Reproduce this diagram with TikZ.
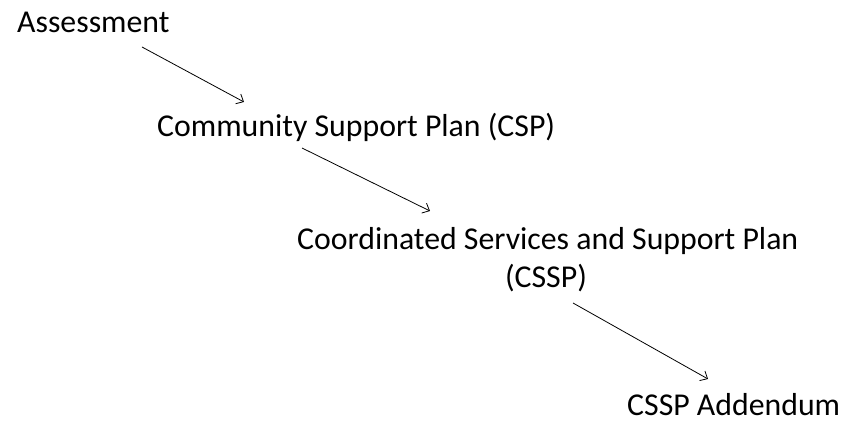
\documentclass[tikz,border=0pt]{standalone}
\usepackage{fontspec}
\setmainfont{Carlito}
\usetikzlibrary{arrows.meta}
\tikzset{
  lbl/.style={anchor=base west, inner sep=0pt, font=\fontsize{31.8}{38}\selectfont},
  flow/.style={-{Straight Barb[length=6pt,width=11pt]}, line width=0.8pt, black}
}
\begin{document}
\begin{tikzpicture}[x=1pt,y=1pt]
\useasboundingbox (0,0) rectangle (842,422);
\node[lbl] (assess) at (17,389) {Assessment};
\node[lbl] (csp) at (157,285) {Community Support Plan (CSP)};
\node[lbl] (cssp) at (297,172) {Coordinated Services and Support Plan};
\node[lbl, anchor=base] (cssp2) at (546,134) {(CSSP)};
\node[lbl] (add) at (627,6) {CSSP Addendum};
\coordinate (a1s) at (142,375);
\coordinate (a1e) at (244,320);
\coordinate (a2s) at (302,274);
\coordinate (a2e) at (430,211);
\coordinate (a3s) at (573,119);
\coordinate (a3e) at (708,43);
\draw[flow] (a1s) -- (a1e);
\draw[flow] (a2s) -- (a2e);
\draw[flow] (a3s) -- (a3e);
\end{tikzpicture}
\end{document}
